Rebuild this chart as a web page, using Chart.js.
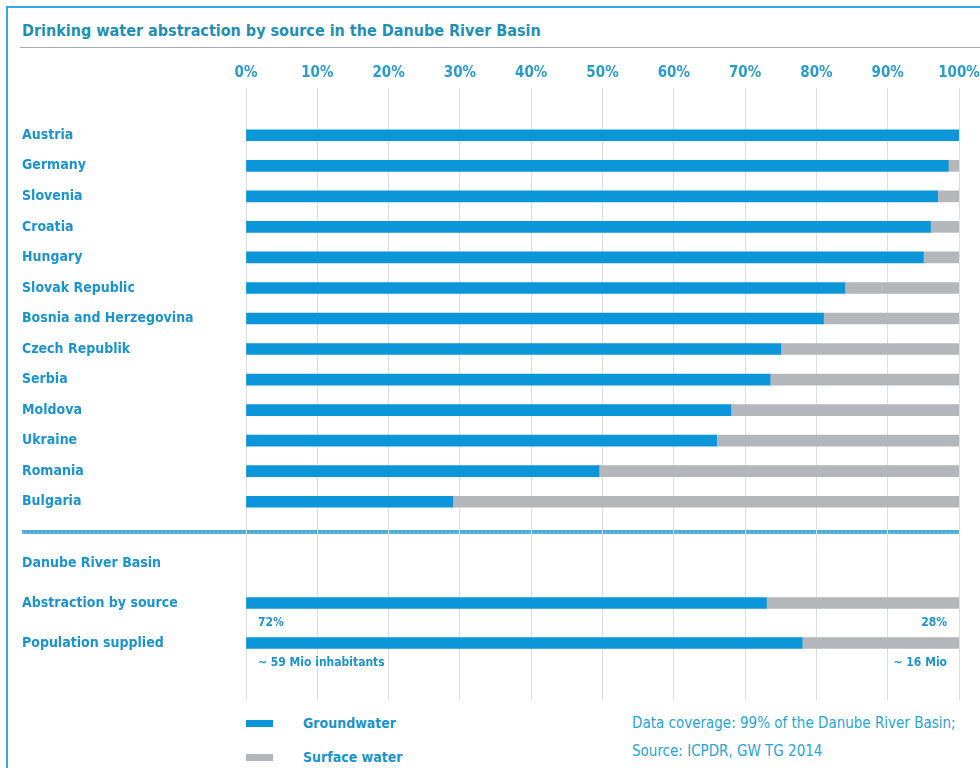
<!DOCTYPE html>
<html>
<head>
<meta charset="utf-8">
<script src="https://cdn.jsdelivr.net/npm/chart.js@4/dist/chart.umd.min.js"></script>
<style>
  body { margin: 0; background: #fff; width: 980px; height: 768px; overflow: hidden; position: relative; }
  .frame { position: absolute; left: 6px; top: 6px; width: 1000px; height: 800px; border-top: 2px solid #33aae2; border-left: 2px solid #33aae2; }
  .title { position: absolute; left: 22px; top: 21px; font: bold 16px 'Liberation Sans Narrow', 'DejaVu Sans Condensed', sans-serif; color: #1f8fb5; white-space: nowrap; }
  .rule { position: absolute; left: 20px; top: 47px; width: 960px; height: 1px; background: #a3a9ae; }
  .sep { position: absolute; left: 22px; top: 530px; width: 937px; height: 2px; border-bottom: 2px dotted #6fb6d8; background: #4aaed9; }
  #c1 { position: absolute; left: 0; top: 60px; }
  #c2 { position: absolute; left: 0; top: 517px; }
  .leg { position: absolute; font: bold 14px 'Liberation Sans Narrow', 'DejaVu Sans Condensed', sans-serif; color: #1b93cc; white-space: nowrap; }
  .box { position: absolute; width: 27px; height: 7px; }
  .src { position: absolute; left: 632px; font: 15px 'Liberation Sans Narrow', 'DejaVu Sans Condensed', sans-serif; color: #2aa3d3; white-space: nowrap; }
</style>
</head>
<body>
<div class="frame"></div>
<div class="title">Drinking water abstraction by source in the Danube River Basin</div>
<div class="rule"></div>
<canvas id="c1" width="980" height="457"></canvas>
<div class="sep"></div>
<canvas id="c2" width="980" height="183"></canvas>
<div class="box" style="left:246px;top:720px;background:#0a96d8"></div>
<div class="leg" style="left:303px;top:715px">Groundwater</div>
<div class="box" style="left:246px;top:754px;background:#b3b7bc"></div>
<div class="leg" style="left:303px;top:749px">Surface water</div>
<div class="src" style="top:714px">Data coverage: 99% of the Danube River Basin;</div>
<div class="src" style="top:742px">Source: ICPDR, GW TG 2014</div>
<script>
const countries = ['Austria', 'Germany', 'Slovenia', 'Croatia', 'Hungary', 'Slovak Republic',
  'Bosnia and Herzegovina', 'Czech Republik', 'Serbia', 'Moldova', 'Ukraine', 'Romania', 'Bulgaria'];
const groundwater = [100, 98.5, 97, 96, 95, 84, 81, 75, 73.5, 68, 66, 49.5, 29];
const surfaceWater = [0, 1.5, 3, 4, 5, 16, 19, 25, 26.5, 32, 34, 50.5, 71];

const basinRows = ['Danube River Basin', 'Abstraction by source', 'Population supplied'];
const basinGround = [null, 73, 78];
const basinSurface = [null, 27, 22];
const leftNotes = ['', '72%', '~ 59 Mio inhabitants'];
const rightNotes = ['', '28%', '~ 16 Mio'];

const FONT = "'Liberation Sans Narrow', 'DejaVu Sans Condensed', sans-serif";
const BLUE = '#0a96d8';
const GREY = '#b3b7bc';
const LABEL = '#1b93cc';
const GRID = '#dcdfe2';

Chart.defaults.font.family = FONT;
Chart.defaults.animation = false;

function yAxis() {
  return {
    stacked: true,
    border: { display: false },
    grid: { display: false },
    ticks: { color: LABEL, crossAlign: 'far', font: { size: 14, weight: 'bold' }, padding: 0 },
    afterFit: (s) => { s.width = 224; s.paddingTop = 0; s.paddingBottom = 0; }
  };
}

function xFit(h) {
  return (s) => { s.height = h; s.paddingLeft = 0; s.paddingRight = 0; };
}

new Chart(document.getElementById('c1'), {
  type: 'bar',
  data: {
    labels: countries,
    datasets: [
      { label: 'Groundwater', data: groundwater, backgroundColor: BLUE, barThickness: 11 },
      { label: 'Surface water', data: surfaceWater, backgroundColor: GREY, barThickness: 11 }
    ]
  },
  options: {
    indexAxis: 'y',
    responsive: false,
    layout: { autoPadding: false, padding: { left: 22, right: 21, top: 0, bottom: 0 } },
    plugins: { legend: { display: false }, tooltip: { enabled: false } },
    scales: {
      x: {
        position: 'top',
        stacked: true,
        min: 0,
        max: 100,
        border: { display: false },
        grid: { color: GRID, tickLength: 32, tickColor: GRID },
        ticks: { stepSize: 10, color: '#2b9cc8', font: { size: 15, weight: 'bold' }, padding: 6,
          callback: (v) => v + '%' },
        afterFit: xFit(60)
      },
      y: yAxis()
    }
  }
});

const notesPlugin = {
  id: 'notes',
  afterDatasetsDraw(chart) {
    const ctx = chart.ctx;
    const x = chart.scales.x;
    const y = chart.scales.y;
    ctx.save();
    ctx.font = 'bold 12px ' + FONT;
    ctx.fillStyle = LABEL;
    ctx.textBaseline = 'middle';
    basinRows.forEach((row, i) => {
      if (!leftNotes[i]) return;
      const py = y.getPixelForValue(i) + 20;
      ctx.textAlign = 'left';
      ctx.fillText(leftNotes[i], x.getPixelForValue(0) + 12, py);
      ctx.textAlign = 'right';
      ctx.fillText(rightNotes[i], x.getPixelForValue(100) - 12, py);
    });
    ctx.restore();
  }
};

new Chart(document.getElementById('c2'), {
  type: 'bar',
  data: {
    labels: basinRows,
    datasets: [
      { label: 'Groundwater', data: basinGround, backgroundColor: BLUE, barThickness: 11 },
      { label: 'Surface water', data: basinSurface, backgroundColor: GREY, barThickness: 11 }
    ]
  },
  options: {
    indexAxis: 'y',
    responsive: false,
    layout: { autoPadding: false, padding: { left: 22, right: 21, top: 0, bottom: 0 } },
    plugins: { legend: { display: false }, tooltip: { enabled: false } },
    scales: {
      x: {
        position: 'top',
        stacked: true,
        min: 0,
        max: 100,
        border: { display: false },
        grid: { color: GRID, tickLength: 26, tickColor: GRID },
        ticks: { stepSize: 10, display: false },
        afterFit: xFit(26)
      },
      x2: {
        position: 'bottom',
        min: 0,
        max: 100,
        border: { display: false },
        grid: { color: GRID, drawOnChartArea: false, tickLength: 37, tickColor: GRID },
        ticks: { stepSize: 10, display: false },
        afterFit: xFit(37)
      },
      y: yAxis()
    }
  },
  plugins: [notesPlugin]
});
</script>
</body>
</html>
